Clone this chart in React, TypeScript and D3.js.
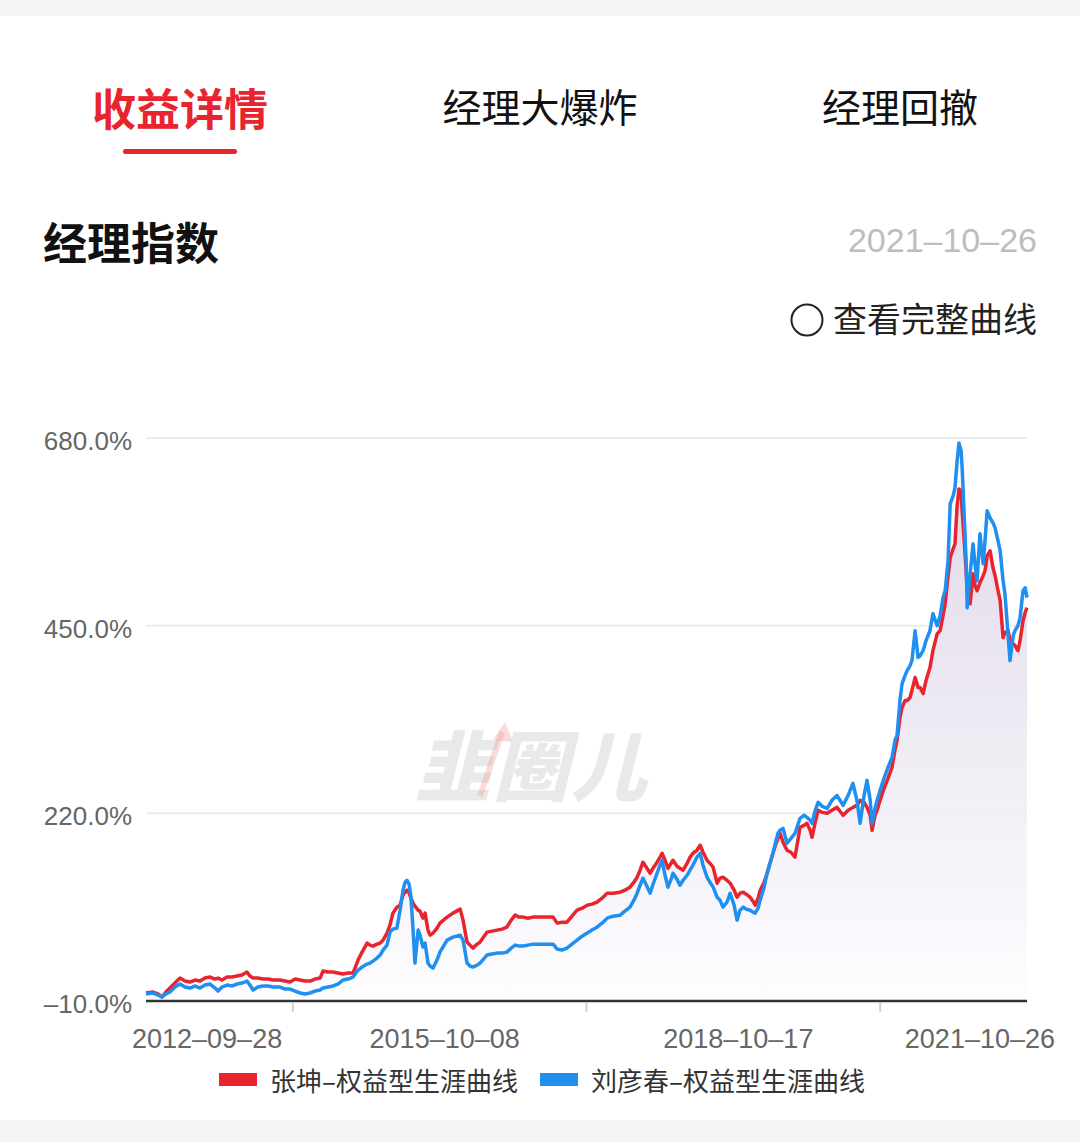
import React from "react";
import * as d3 from "d3";

// trading dates as day offsets from the first date of the curve
const startDate = new Date(2012, 8, 28);
const endLabel = "2021-10-26";

const dayOffsets = [
  0, 26, 45, 60, 75, 90, 109, 128, 147, 166,
  184, 203, 222, 241, 260, 271, 286, 305, 324, 342,
  361, 380, 391, 403, 421, 440, 459, 478, 504, 523,
  542, 561, 580, 598, 617, 636, 655, 666, 685, 704,
  722, 741, 760, 779, 798, 813, 832, 843, 854, 869,
  881, 892, 907, 918, 929, 944, 956, 967, 975, 982,
  990, 997, 1005, 1012, 1024, 1031, 1042, 1050, 1061, 1069,
  1080, 1095, 1106, 1133, 1155, 1182, 1193, 1208, 1219, 1230,
  1246, 1257, 1283, 1302, 1321, 1340, 1358, 1374, 1389, 1404,
  1419, 1437, 1456, 1475, 1494, 1513, 1532, 1547, 1565, 1584,
  1603, 1622, 1641, 1660, 1678, 1697, 1716, 1735, 1757, 1784,
  1802, 1821, 1836, 1848, 1859, 1870, 1885, 1897, 1908, 1923,
  1934, 1942, 1953, 1964, 1976, 1983, 1998, 2009, 2021, 2036,
  2047, 2058, 2073, 2085, 2096, 2111, 2122, 2134, 2149, 2160,
  2171, 2186, 2198, 2213, 2224, 2235, 2247, 2258, 2273, 2284,
  2292, 2303, 2311, 2326, 2337, 2348, 2359, 2371, 2378, 2386,
  2397, 2412, 2427, 2442, 2461, 2476, 2487, 2499, 2506, 2518,
  2529, 2544, 2563, 2581, 2600, 2623, 2642, 2660, 2675, 2687,
  2702, 2713, 2725, 2732, 2743, 2751, 2762, 2777, 2792, 2807,
  2818, 2826, 2837, 2845, 2856, 2864, 2875, 2882, 2894, 2905,
  2913, 2924, 2935, 2950, 2961, 2977, 2988, 2999, 3007, 3018,
  3026, 3037, 3044, 3052, 3059, 3067, 3071, 3078, 3086, 3090,
  3101, 3112, 3120, 3127, 3138, 3150, 3157, 3165, 3176, 3187,
  3195, 3206, 3214, 3225, 3232, 3244, 3251, 3263, 3270, 3281,
  3289, 3300, 3308, 3315,
];

// 张坤 cumulative return, %
const zhangKun = [
  -0.2, 1.0, -1.4, -5.1, 1.0, 5.9, 12.0, 18.1, 14.5, 13.2,
  15.7, 14.5, 18.1, 19.4, 16.9, 18.1, 15.7, 19.4, 19.4, 20.6,
  21.8, 25.5, 20.6, 18.1, 18.1, 16.9, 16.9, 15.7, 15.7, 14.5,
  13.2, 16.9, 15.7, 14.5, 14.5, 16.9, 18.1, 26.7, 25.5, 25.5,
  24.3, 23.0, 24.3, 24.3, 40.2, 49.9, 61.0, 58.5, 57.3, 59.7,
  61.0, 64.6, 73.2, 83.0, 97.7, 105.0, 107.4, 119.7, 123.4, 125.8,
  122.1, 116.0, 109.9, 106.2, 101.3, 100.1, 91.5, 97.7, 76.9, 70.7,
  73.2, 79.3, 85.4, 92.8, 97.7, 102.6, 89.1, 62.2, 58.5, 54.8,
  59.7, 62.2, 74.4, 75.6, 76.9, 78.1, 80.5, 89.1, 95.2, 92.8,
  92.8, 91.5, 92.8, 92.8, 92.8, 92.8, 92.8, 85.4, 86.6, 86.6,
  94.0, 101.3, 103.8, 107.4, 108.7, 111.1, 116.0, 122.1, 122.1, 123.4,
  125.8, 129.5, 135.6, 141.7, 150.3, 160.1, 152.7, 146.6, 152.7, 160.1,
  166.2, 171.1, 162.5, 152.7, 158.8, 162.5, 155.2, 152.7, 150.3, 158.8,
  166.2, 171.1, 174.7, 180.9, 172.3, 162.5, 158.8, 153.9, 134.4, 140.5,
  141.7, 138.0, 134.4, 125.8, 117.2, 122.1, 123.4, 120.9, 117.2, 112.3,
  107.4, 116.0, 125.8, 135.6, 146.6, 158.8, 171.1, 183.3, 189.4, 195.5,
  184.5, 174.7, 172.3, 166.2, 202.9, 205.3, 207.8, 199.2, 190.6, 209.0,
  223.7, 221.2, 220.0, 223.7, 227.3, 217.6, 223.7, 227.3, 229.8, 235.9,
  233.5, 227.3, 217.6, 199.2, 217.6, 223.7, 235.9, 250.6, 262.8, 276.3,
  297.1, 309.3, 337.4, 349.7, 358.2, 358.2, 361.9, 370.5, 386.4, 374.1,
  374.1, 366.8, 382.7, 398.6, 419.4, 440.2, 443.9, 462.2, 476.9, 511.2,
  533.2, 544.2, 550.3, 596.8, 617.6, 615.2, 590.7, 557.7, 517.3, 492.8,
  476.9, 513.6, 498.9, 492.8, 502.6, 511.2, 517.3, 535.6, 541.8, 521.0,
  511.2, 492.8, 480.6, 435.3, 441.4, 443.9, 431.6, 428.0, 425.5, 419.4,
  431.6, 456.1, 465.9, 472.0,
];

// 刘彦春 cumulative return, %
const liuYanchun = [
  -1.4, -0.2, -2.7, -5.1, -1.4, 1.0, 7.1, 10.8, 7.1, 5.9,
  8.4, 5.9, 9.6, 10.8, 5.9, 2.2, 7.1, 9.6, 8.4, 10.8,
  12.0, 14.5, 9.6, 3.5, 7.1, 8.4, 8.4, 7.1, 7.1, 4.7,
  4.7, 2.2, -0.2, -1.4, -0.2, 2.2, 3.5, 5.9, 7.1, 8.4,
  10.8, 15.7, 16.9, 19.4, 27.9, 31.6, 35.3, 36.5, 38.9, 42.6,
  46.3, 52.4, 58.5, 74.4, 78.1, 79.3, 101.3, 125.8, 135.6, 138.0,
  133.1, 117.2, 76.9, 36.5, 76.9, 70.7, 56.1, 61.0, 36.5, 32.8,
  30.4, 40.2, 49.9, 64.6, 68.3, 70.7, 64.6, 36.5, 32.8, 31.6,
  34.0, 36.5, 46.3, 47.5, 48.7, 48.7, 49.9, 54.8, 58.5, 57.3,
  57.3, 58.5, 59.7, 59.7, 59.7, 59.7, 59.7, 53.6, 52.4, 54.8,
  59.7, 64.6, 69.5, 73.2, 76.9, 80.5, 85.4, 91.5, 94.0, 95.2,
  100.1, 105.0, 113.6, 122.1, 131.9, 140.5, 130.7, 122.1, 133.1, 146.6,
  156.4, 162.5, 144.1, 129.5, 139.3, 146.6, 139.3, 131.9, 138.0, 144.1,
  150.3, 156.4, 166.2, 171.1, 156.4, 141.7, 135.6, 129.5, 117.2, 113.6,
  105.0, 111.1, 122.1, 107.4, 89.1, 101.3, 105.0, 102.6, 101.3, 98.9,
  97.7, 103.8, 113.6, 129.5, 146.6, 158.8, 171.1, 187.0, 195.5, 199.2,
  201.6, 183.3, 189.4, 195.5, 213.9, 217.6, 215.1, 211.4, 207.8, 223.7,
  233.5, 228.6, 226.1, 235.9, 242.0, 229.8, 242.0, 256.7, 235.9, 207.8,
  242.0, 260.4, 235.9, 207.8, 226.1, 235.9, 248.1, 262.8, 276.3, 288.5,
  309.3, 315.4, 358.2, 379.0, 388.8, 394.9, 401.1, 407.2, 443.9, 410.9,
  413.3, 419.4, 431.6, 443.9, 464.7, 450.0, 462.2, 484.3, 492.8, 529.5,
  599.3, 609.0, 618.8, 651.9, 673.9, 664.1, 643.3, 590.7, 529.5, 472.0,
  513.6, 550.3, 523.4, 505.1, 562.6, 525.8, 554.0, 590.7, 582.1, 576.0,
  569.9, 554.0, 541.8, 505.1, 489.1, 437.8, 407.2, 437.8, 443.9, 450.0,
  459.8, 492.8, 496.5, 484.3,
];

const yTicks = [-10, 220, 450, 680];
const xLabels = ["2012-09-28", "2015-10-08", "2018-10-17", "2021-10-26"];
const tabs = ["收益详情", "经理大爆炸", "经理回撤"];
const seriesNames = ["张坤-权益型生涯曲线", "刘彦春-权益型生涯曲线"];

const RED = "#e8242f";
const BLUE = "#1f8ff0";
const cjk = '"Noto Sans CJK SC", "Noto Sans", sans-serif';
const num = '"Liberation Sans", Arial, sans-serif';
const dash = (s: string) => s.replace(/-/g, "–");

export default function App() {
  const W = 1080;
  const H = 1142;
  const left = 146;
  const right = 1027;
  const top = 438;
  const bottom = 1001;

  const parse = d3.timeParse("%Y-%m-%d");
  const x = d3.scaleTime().domain([startDate, parse(endLabel) as Date]).range([left, right]);
  const y = d3.scaleLinear().domain([-10, 680]).range([bottom, top]);

  const dates = dayOffsets.map((d) => d3.timeDay.offset(startDate, d));
  const redPts = dates.map((d, i) => [d, zhangKun[i]] as [Date, number]);
  const bluePts = dates.map((d, i) => [d, liuYanchun[i]] as [Date, number]);

  const line = d3
    .line<[Date, number]>()
    .x((d) => x(d[0]))
    .y((d) => y(d[1]));
  const area = d3
    .area<[Date, number]>()
    .x((d) => x(d[0]))
    .y0(bottom)
    .y1((d) => y(d[1]));

  const labelXs = xLabels.map((s) => x(parse(s) as Date));
  const tickXs = d3.pairs(labelXs).map(([a, b]) => (a + b) / 2);

  const tabXs = [180, 540, 900];

  return (
    <svg
      width={W}
      height={H}
      style={{ position: "absolute", left: 0, top: 0, display: "block" }}
    >
      <defs>
        <linearGradient id="areaGrad" gradientUnits="userSpaceOnUse" x1={0} y1={top} x2={0} y2={bottom}>
          <stop offset="0%" stopColor="#d9d1e4" />
          <stop offset="100%" stopColor="#fdfcfe" />
        </linearGradient>
      </defs>
      <rect x={0} y={0} width={W} height={H} fill="#f5f5f5" />
      <rect x={0} y={16} width={W} height={1104} fill="#ffffff" />

      {/* tabs */}
      {tabs.map((t, i) => (
        <text
          key={t}
          x={tabXs[i]}
          y={i === 0 ? 107 : 105}
          textAnchor="middle"
          dominantBaseline="central"
          fontFamily={cjk}
          fontSize={i === 0 ? 44 : 39}
          fontWeight={i === 0 ? 700 : 400}
          fill={i === 0 ? RED : "#111"}
        >
          {t}
        </text>
      ))}
      <rect x={123} y={149} width={114} height={5} rx={2.5} fill={RED} />

      {/* header */}
      <text x={43} y={241} dominantBaseline="central" fontFamily={cjk} fontSize={44} fontWeight={700} fill="#111">
        经理指数
      </text>
      <text x={1037} y={240} textAnchor="end" dominantBaseline="central" fontFamily={num} fontSize={34} fill="#bdbdbd">
        {dash(endLabel)}
      </text>
      <circle cx={807} cy={320} r={15.5} fill="none" stroke="#222" strokeWidth={2} />
      <text x={1037} y={317} textAnchor="end" dominantBaseline="central" fontFamily={cjk} fontSize={34} fill="#222">
        查看完整曲线
      </text>

      {/* grid */}
      {yTicks.slice(1).map((v) => (
        <line key={v} x1={left} x2={right} y1={y(v)} y2={y(v)} stroke="#ececec" strokeWidth={2} />
      ))}

      {/* watermark */}
      <g transform="translate(540,762) skewX(-14)">
        <text
          x={0}
          y={0}
          textAnchor="middle"
          dominantBaseline="central"
          fontFamily={cjk}
          fontSize={76}
          fontWeight={900}
          letterSpacing={2}
          fill="#e9e9e9"
        >
          韭圈儿
        </text>
      </g>
      <line x1={480} y1={796} x2={502} y2={732} stroke="#f08a8a" strokeOpacity={0.3} strokeWidth={6} />
      <polygon points="505,722 493,740 513,742" fill="#f08a8a" fillOpacity={0.3} />

      {/* area and lines */}
      <path d={area(redPts) || ""} fill="url(#areaGrad)" opacity={0.85} />
      <path d={line(redPts) || ""} fill="none" stroke={RED} strokeWidth={3.5} strokeLinejoin="round" />
      <path d={line(bluePts) || ""} fill="none" stroke={BLUE} strokeWidth={3.5} strokeLinejoin="round" />

      {/* axes */}
      <line x1={left} x2={right} y1={bottom} y2={bottom} stroke="#333" strokeWidth={2.5} />
      {tickXs.map((t) => (
        <line key={t} x1={t} x2={t} y1={bottom + 1} y2={bottom + 11} stroke="#d0d0d0" strokeWidth={2} />
      ))}
      {yTicks.map((v) => (
        <text
          key={v}
          x={132}
          y={y(v) + 3}
          textAnchor="end"
          dominantBaseline="central"
          fontFamily={num}
          fontSize={26}
          fill="#666"
        >
          {dash(`${v.toFixed(1)}%`)}
        </text>
      ))}
      {xLabels.map((s, i) => {
        const last = i === xLabels.length - 1;
        const anchor = i === 0 ? "start" : last ? "end" : "middle";
        const lx = i === 0 ? 132 : last ? 1055 : labelXs[i] + 5;
        return (
          <text
            key={s}
            x={lx}
            y={1039}
            textAnchor={anchor}
            dominantBaseline="central"
            fontFamily={num}
            fontSize={27}
            fill="#666"
          >
            {dash(s)}
          </text>
        );
      })}

      {/* legend */}
      {seriesNames.map((n, i) => {
        const lx = i === 0 ? 219 : 540;
        return (
          <g key={n}>
            <rect x={lx} y={1073} width={38} height={13} fill={i === 0 ? RED : BLUE} />
            <text
              x={lx + 51}
              y={1079}
              dominantBaseline="central"
              fontFamily={cjk}
              fontSize={26}
              fill="#333"
            >
              {dash(n)}
            </text>
          </g>
        );
      })}
    </svg>
  );
}
